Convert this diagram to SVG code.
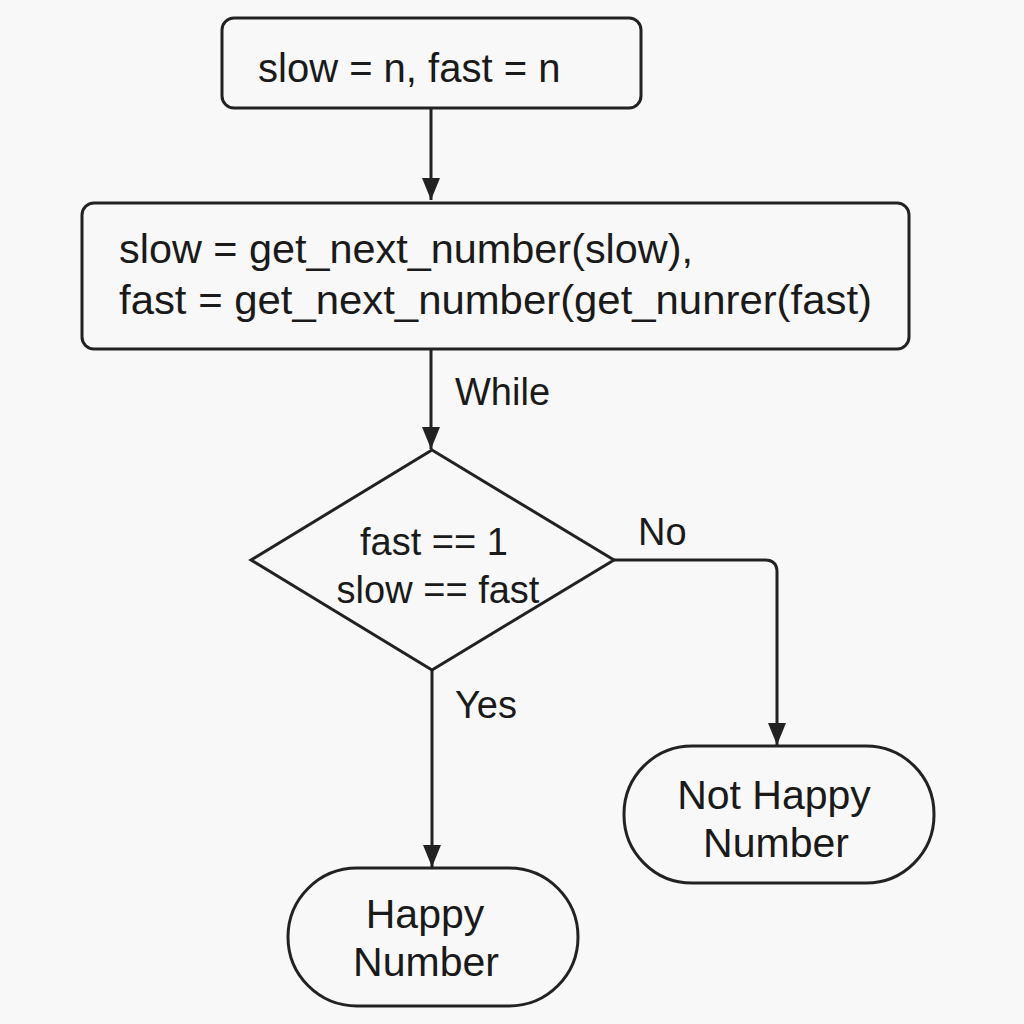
<svg xmlns="http://www.w3.org/2000/svg" width="1024" height="1024" viewBox="0 0 1024 1024">
<defs>
<style>
.node{fill:#f8f8f8;stroke:#222;stroke-width:3}
.t{font-family:"Liberation Sans",Arial,sans-serif;font-size:38px;fill:#1a1a1a}
.c{text-anchor:middle}
.big{font-size:41px}
.edge{fill:none;stroke:#222;stroke-width:3}
</style>
<marker id="ah" viewBox="0 0 24 24" refX="22" refY="12" markerWidth="24" markerHeight="24" orient="auto" markerUnits="userSpaceOnUse">
<path d="M0,3 L22,12 L0,21 Z" fill="#222"/>
</marker>
</defs>
<rect width="1024" height="1024" fill="#f8f8f8"/>
<g id="connectors">
<path class="edge" d="M431,108 V200" marker-end="url(#ah)"/>
<path class="edge" d="M431,349 V449" marker-end="url(#ah)"/>
<path class="edge" d="M614,560 H765 Q777,560 777,572 V745" marker-end="url(#ah)"/>
<path class="edge" d="M432,670 V867" marker-end="url(#ah)"/>
<text class="t" x="455" y="405">While</text>
<text class="t" x="638" y="545">No</text>
<text class="t" x="455" y="718">Yes</text>
</g>
<g id="init">
<rect class="node" x="222" y="18" width="419" height="90" rx="12"/>
<text class="t" x="258" y="82" style="font-size:40px">slow = n, fast = n</text>
</g>
<g id="step">
<rect class="node" x="82" y="203" width="827" height="146" rx="12"/>
<text class="t big" x="119" y="263" textLength="574" lengthAdjust="spacingAndGlyphs">slow = get_next_number(slow),</text>
<text class="t big" x="119" y="314" textLength="753" lengthAdjust="spacingAndGlyphs">fast = get_next_number(get_nunrer(fast)</text>
</g>
<g id="check">
<path class="node" d="M432,450 L614,560 L432,670 L251,560 Z"/>
<text class="t c" x="434" y="555">fast == 1</text>
<text class="t c" x="438" y="603">slow == fast</text>
</g>
<g id="not-happy">
<rect class="node" x="624" y="746" width="310" height="137" rx="68"/>
<text class="t c big" x="774" y="809">Not Happy</text>
<text class="t c big" x="776" y="857">Number</text>
</g>
<g id="happy">
<rect class="node" x="288" y="868" width="290" height="138" rx="69"/>
<text class="t c big" x="425" y="928">Happy</text>
<text class="t c big" x="426" y="976">Number</text>
</g>
</svg>
